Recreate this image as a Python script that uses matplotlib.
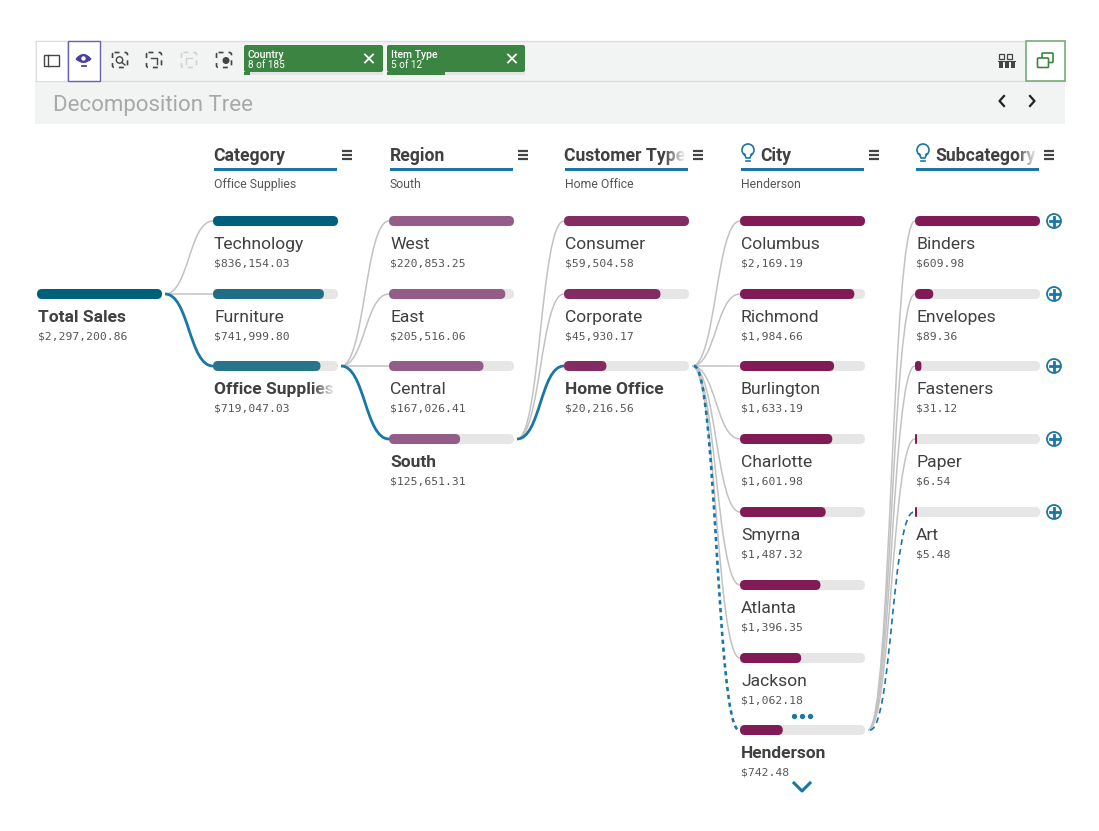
"""decomposition tree, drawn in pixel coordinates of the reference"""

import matplotlib

matplotlib.use("Agg")
import matplotlib.pyplot as plt
import numpy as np
from matplotlib.patches import Circle, FancyBboxPatch, PathPatch, Rectangle
from matplotlib.path import Path

SANS = "Roboto"
MONO = "DejaVu Sans Mono"

root_name = "Total Sales"
root_value = 2297200.86

headers = ["Category", "Region", "Customer Type", "City", "Subcategory"]
subtitles = ["Office Supplies", "South", "Home Office", "Henderson", ""]

category_names = ["Technology", "Furniture", "Office Supplies"]
category_values = [836154.03, 741999.80, 719047.03]
region_names = ["West", "East", "Central", "South"]
region_values = [220853.25, 205516.06, 167026.41, 125651.31]
customer_names = ["Consumer", "Corporate", "Home Office"]
customer_values = [59504.58, 45930.17, 20216.56]
city_names = ["Columbus", "Richmond", "Burlington", "Charlotte", "Smyrna", "Atlanta", "Jackson", "Henderson"]
city_values = [2169.19, 1984.66, 1633.19, 1601.98, 1487.32, 1396.35, 1062.18, 742.48]
sub_names = ["Binders", "Envelopes", "Fasteners", "Paper", "Art"]
sub_values = [609.98, 89.36, 31.12, 6.54, 5.48]

columns = [
    (category_names, category_values, ["#005f7a", "#1f6e85", "#27758b"], 2),
    (region_names, region_values, ["#945c88", "#945c88", "#945c88", "#945c88"], 3),
    (customer_names, customer_values, ["#832c62", "#832c62", "#832c62"], 2),
    (city_names, city_values, ["#801b55"] * 8, 7),
    (sub_names, sub_values, ["#801b55"] * 5, None),
]

col_x = [213, 389, 564, 740, 915]
row_y = [221, 294, 366, 439, 512, 585, 658, 730]
BAR_W = 125
BAR_H = 10
GREY = "#c2c2c2"
TRACK = "#e6e6e6"
BLUE = "#1a76a6"
DARK = "#404040"
GREEN = "#3c8442"

fig = plt.figure(figsize=(10.99, 8.31), dpi=100)
ax = fig.add_axes([0, 0, 1, 1])
ax.set_xlim(0, 1099)
ax.set_ylim(831, 0)
ax.axis("off")


def round_bar(x, y, w, color, z=3):
    h = BAR_H
    pad = min(h, w) / 2
    ax.add_patch(FancyBboxPatch((x + pad, y - h / 2 + pad), max(w - 2 * pad, 0.01), max(h - 2 * pad, 0.01),
                                boxstyle="round,pad={}".format(pad), fc=color, ec="none", zorder=z))


def link(x0, y0, x1, y1, color=GREY, lw=1.1, ls="-", z=1):
    mid = (x0 + x1) / 2
    verts = [(x0, y0), (mid, y0), (mid, y1), (x1, y1)]
    codes = [Path.MOVETO, Path.CURVE4, Path.CURVE4, Path.CURVE4]
    ax.add_patch(PathPatch(Path(verts, codes), fc="none", ec=color, lw=lw, ls=ls, zorder=z))


def fade(x0, x1, y0, y1):
    grad = np.ones((1, 32, 4))
    grad[0, :, 3] = np.linspace(0, 1, 32)
    ax.imshow(grad, extent=(x0, x1, y1, y0), aspect="auto", zorder=6)
    ax.set_xlim(0, 1099)
    ax.set_ylim(831, 0)


def dashed_square(cx, cy, color="#444444", r=7.5, lw=1.2):
    ax.add_patch(FancyBboxPatch((cx - r + 2, cy - r + 2), 2 * r - 4, 2 * r - 4, boxstyle="round,pad=2",
                                fc="none", ec=color, lw=lw, ls=(0, (3, 3)), zorder=3))


def chip(x, w, title, sub, done):
    ax.add_patch(Rectangle((x, 71.5), w, 3.5, fc="#e4e4e4", ec="none", zorder=2))
    ax.add_patch(Rectangle((x, 71.5), done, 3.5, fc=GREEN, ec="none", zorder=3))
    ax.add_patch(FancyBboxPatch((x + 2, 47), w - 4, 23, boxstyle="round,pad=2", fc=GREEN, ec="none", zorder=3))
    ax.text(x + 4, 58, title, color="white", fontsize=7.6, family=SANS, weight="medium", zorder=4)
    ax.text(x + 4, 68.5, sub, color="white", fontsize=7.2, family=SANS, zorder=4)
    cx, cy = x + 125, 58.5
    ax.plot([cx - 4, cx + 4], [cy - 4, cy + 4], color="white", lw=1.3, zorder=4)
    ax.plot([cx - 4, cx + 4], [cy + 4, cy - 4], color="white", lw=1.3, zorder=4)


def bulb(cx, cy):
    ax.add_patch(Circle((cx, cy - 2), 6, fc="none", ec=BLUE, lw=1.2, zorder=4))
    ax.add_patch(Rectangle((cx - 3, cy + 3), 6, 3, fc="white", ec="none", zorder=4))
    ax.plot([cx - 3.5, cx - 2, cx + 2, cx + 3.5], [cy + 2, cy + 6, cy + 6, cy + 2], color=BLUE, lw=1.2, zorder=5)
    ax.plot([cx - 2, cx + 2], [cy + 8.5, cy + 8.5], color=BLUE, lw=1.2, zorder=5)


# toolbar and title band
ax.add_patch(Rectangle((35, 41), 1030, 83, fc="#f2f3f3", ec="none", zorder=0))
ax.plot([36, 1065], [41, 41], color="#dddddd", lw=1, zorder=1)
ax.plot([36, 1065], [80.5, 80.5], color="#dddddd", lw=1, zorder=1)
ax.add_patch(Rectangle((36, 41), 31, 40, fc="white", ec="#dddddd", lw=0.8, zorder=1))
ax.add_patch(Rectangle((67.5, 40.5), 32, 40, fc="white", ec="#6a63b0", lw=1, zorder=2))
ax.add_patch(Rectangle((1026, 40.5), 38.5, 40, fc="white", ec="#77ab7b", lw=1.2, zorder=2))
ax.add_patch(Rectangle((43.5, 55), 15, 10.5, fc="none", ec="#444444", lw=1, zorder=3))
ax.plot([48, 48], [55, 65.5], color="#444444", lw=1, zorder=3)
# eye icon
ax.add_patch(PathPatch(Path([(76, 59), (83.5, 50), (91, 59), (83.5, 66), (76, 59)],
                            [Path.MOVETO, Path.CURVE3, Path.CURVE3, Path.CURVE3, Path.CURVE3]),
                       fc="#4a3f9f", ec="#4a3f9f", lw=0.8, zorder=3))
ax.add_patch(Circle((83.5, 58.5), 2.2, fc="white", ec="none", zorder=4))
ax.plot([81.5, 85.5], [66, 66], color="#4a3f9f", lw=1.3, zorder=3)
dashed_square(120, 60)
ax.add_patch(Circle((119.5, 60), 3.2, fc="none", ec="#444444", lw=1, zorder=3))
ax.plot([122, 125], [62.5, 65], color="#444444", lw=1, zorder=3)
dashed_square(154, 60)
ax.plot([151, 157, 157], [58, 58, 64], color="#444444", lw=1, zorder=3)
dashed_square(189, 60, color="#d0d0d0")
ax.plot([186, 186, 192], [64, 58, 58], color="#d0d0d0", lw=1, zorder=3)
dashed_square(224, 60)
ax.add_patch(Circle((226, 60.5), 3.5, fc="#444444", ec="none", zorder=3))
chip(244, 139, "Country", "8 of 185", 6)
chip(387, 138, "Item Type", "5 of 12", 58)
for bx in [999, 1006.5]:
    ax.add_patch(Rectangle((bx, 54), 5, 5, fc="none", ec="#444444", lw=0.9, zorder=3))
ax.plot([998, 1015], [60.5, 60.5], color="#444444", lw=0.8, zorder=3)
for bx in [998.5, 1004.5, 1010.5]:
    ax.add_patch(Rectangle((bx, 62), 4.5, 6, fc="#444444", ec="none", zorder=3))
ax.add_patch(FancyBboxPatch((1043, 54), 9, 7.5, boxstyle="round,pad=1", fc="none", ec=GREEN, lw=1.2, zorder=3))
ax.add_patch(FancyBboxPatch((1038.5, 59), 9, 7.5, boxstyle="round,pad=1", fc="white", ec=GREEN, lw=1.2, zorder=4))
ax.text(53, 110.5, "Decomposition Tree", color="#a8a8a8", fontsize=16, family=SANS)
ax.plot([1004, 999.5, 1004], [96, 101, 106], color="#222222", lw=1.6, zorder=3)
ax.plot([1030, 1034.5, 1030], [96, 101, 106], color="#222222", lw=1.6, zorder=3)

# root node
round_bar(37, 294, 125, "#005f7a")
ax.text(38, 322, root_name, color=DARK, fontsize=12.5, family=SANS, weight="bold")
ax.text(38, 339.5, "${:,.2f}".format(root_value), color="#555555", fontsize=8.2, family=MONO)

parent_end = 165
parent_row = 1
for c, (names, values, colors, picked) in enumerate(columns):
    x = col_x[c]
    top = max(values)
    # column header
    tx = x + 0.5
    if headers[c] in ("City", "Subcategory"):
        bulb(x + 8, 152)
        tx = x + 20
    ax.text(tx, 161, headers[c], color=DARK, fontsize=12.7, family=SANS, weight="bold")
    ax.add_patch(Rectangle((x + 1, 168), 123, 3, fc=BLUE, ec="none", zorder=3))
    for my in [151, 155, 159]:
        ax.plot([x + 129, x + 139], [my, my], color="#444444", lw=1.6, solid_capstyle="butt", zorder=3)
    if subtitles[c]:
        ax.text(x + 1, 188, subtitles[c], color="#555555", fontsize=8.8, family=SANS)

    for r, (name, value) in enumerate(zip(names, values)):
        y = row_y[r]
        round_bar(x, y, BAR_W, TRACK, z=2)
        round_bar(x, y, max(BAR_W * value / top, 2), colors[r], z=3)
        bold = r == picked
        ax.text(x + 1, y + 28, name, color=DARK, fontsize=12.5 if bold else 12.6, family=SANS,
                weight="bold" if bold else "normal")
        ax.text(x + 1, y + 45.5, "${:,.2f}".format(value), color="#555555", fontsize=8.2, family=MONO)
        parent_y = row_y[parent_row]
        if c == 3 and r == picked:
            link(parent_end + 2, parent_y, x - 1, y, color=BLUE, lw=1.9, ls=(0, (1.6, 1.4)), z=4)
        elif c == 4 and r == len(names) - 1:
            link(parent_end + 2, parent_y, x - 1, y, color=BLUE, lw=1.2, ls=(0, (3.5, 2.5)), z=4)
        elif c < 3 and r == picked:
            link(parent_end, parent_y, x, y, color=BLUE, lw=2, z=4)
        else:
            link(parent_end, parent_y, x, y)
        if c == 4:
            ax.add_patch(Circle((1054, y), 7, fc="white", ec=BLUE, lw=1.3, zorder=3))
            ax.plot([1049.5, 1058.5], [y, y], color=BLUE, lw=2, zorder=4)
            ax.plot([1054, 1054], [y - 4.5, y + 4.5], color=BLUE, lw=2, zorder=4)
    parent_end = x + BAR_W + 3
    if picked is not None:
        parent_row = picked

# text that runs out of its column fades away
fade(312, 336, 378, 400)
fade(664, 686, 145, 166)
fade(1016, 1038, 145, 166)

# more rows markers
ax.scatter([794, 802, 810], [716, 716, 716], s=8, color=BLUE, zorder=4)
ax.plot([794, 802, 810], [783, 791, 783], color=BLUE, lw=2.2, zorder=4)

fig.savefig("out.png", dpi=100, facecolor="white")
